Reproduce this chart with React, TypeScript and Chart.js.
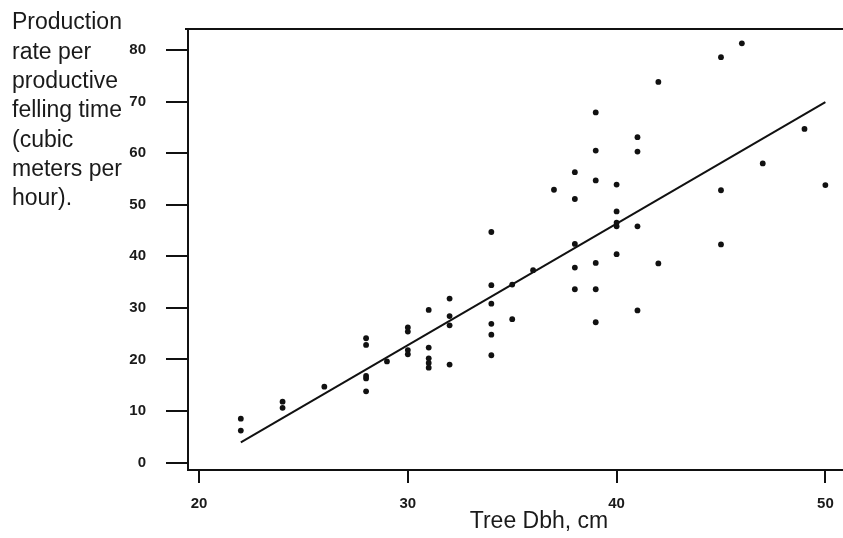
import React, { useEffect, useRef } from 'react';
import { Chart, registerables } from 'chart.js';

Chart.register(...registerables);

// Tree diameter at breast height (cm) for each observation
const dbh = [
  22, 22,
  24, 24,
  26,
  28, 28, 28, 28, 28,
  29,
  30, 30, 30, 30,
  31, 31, 31, 31, 31,
  32, 32, 32, 32,
  34, 34, 34, 34, 34, 34,
  35, 35,
  36,
  37,
  38, 38, 38, 38, 38,
  39, 39, 39, 39, 39, 39,
  40, 40, 40, 40, 40,
  41, 41, 41, 41,
  42, 42,
  45, 45, 45,
  46, 47, 49, 50,
];

// Production rate per productive felling time (m3/h) for each observation
const rate = [
  8.5, 6.2,
  11.8, 10.6,
  14.7,
  24.1, 22.8, 16.8, 16.3, 13.8,
  19.6,
  26.2, 25.4, 21.8, 21.0,
  29.6, 22.3, 20.2, 19.3, 18.4,
  31.8, 28.4, 26.6, 19.0,
  44.7, 34.4, 30.8, 26.9, 24.8, 20.8,
  34.5, 27.8,
  37.3,
  52.9,
  56.3, 51.1, 42.4, 37.8, 33.6,
  67.9, 60.5, 54.7, 38.7, 33.6, 27.2,
  53.9, 48.7, 46.5, 45.8, 40.4,
  63.1, 60.3, 45.8, 29.5,
  73.8, 38.6,
  78.6, 52.8, 42.3,
  81.3, 58.0, 64.7, 53.8,
];

// Fitted regression line end points
const fitX = [22, 50];
const fitY = [3.9, 69.9];

const xTicks = [20, 30, 40, 50];
const yTicks = [0, 10, 20, 30, 40, 50, 60, 70, 80];

const yTitleLines = [
  'Production',
  'rate per',
  'productive',
  'felling time',
  '(cubic',
  'meters per',
  'hour).',
];
const xTitle = 'Tree Dbh, cm';

const INK = '#111111';
const TEXT = '#1a1a1a';
const FONT = '"Liberation Sans", Arial, sans-serif';

const framePlugin = {
  id: 'frameAndTitles',
  afterDraw(chart: any) {
    const { ctx, chartArea } = chart;
    ctx.save();
    // top frame line
    ctx.strokeStyle = INK;
    ctx.lineWidth = 2;
    ctx.beginPath();
    ctx.moveTo(chartArea.left - 3, chartArea.top);
    ctx.lineTo(chartArea.right, chartArea.top);
    ctx.stroke();

    // horizontal, multi-line y-axis title at top-left
    ctx.fillStyle = TEXT;
    ctx.font = `23px ${FONT}`;
    ctx.textAlign = 'left';
    ctx.textBaseline = 'middle';
    yTitleLines.forEach((line, i) => {
      ctx.fillText(line, 12, 23 + i * 29.3);
    });

    // x-axis title
    ctx.textAlign = 'center';
    ctx.fillText(xTitle, 539, 522);
    ctx.restore();
  },
};

export default function App() {
  const canvasRef = useRef<HTMLCanvasElement | null>(null);

  useEffect(() => {
    const canvas = canvasRef.current;
    if (!canvas) return;

    const points = dbh.map((x, i) => ({ x, y: rate[i] }));
    const fit = fitX.map((x, i) => ({ x, y: fitY[i] }));

    const chart = new Chart(canvas, {
      type: 'scatter',
      data: {
        datasets: [
          {
            label: 'Observations',
            data: points,
            pointRadius: 2.9,
            pointBackgroundColor: INK,
            pointBorderColor: INK,
            pointBorderWidth: 0,
            showLine: false,
          },
          {
            label: 'Fitted line',
            data: fit,
            showLine: true,
            borderColor: INK,
            borderWidth: 2,
            pointRadius: 0,
            fill: false,
          },
        ],
      },
      options: {
        responsive: false,
        animation: false,
        events: [],
        layout: { padding: { top: 27, left: 0, right: 0, bottom: 0 } },
        plugins: {
          legend: { display: false },
          tooltip: { enabled: false },
          title: { display: false },
        },
        scales: {
          x: {
            type: 'linear',
            min: 19.47,
            max: 50.94,
            afterBuildTicks: (axis: any) => {
              axis.ticks = xTicks.map((v) => ({ value: v }));
            },
            afterFit: (axis: any) => {
              axis.height = 68;
            },
            grid: {
              drawOnChartArea: false,
              drawTicks: true,
              tickLength: 13,
              color: INK,
              lineWidth: 2,
            },
            border: { display: true, color: INK, width: 2 },
            ticks: {
              padding: 12,
              color: TEXT,
              font: { family: FONT, size: 15, weight: 'bold' },
              maxRotation: 0,
              callback: (v: any) => String(v),
            },
            title: { display: false },
          },
          y: {
            type: 'linear',
            min: -1.45,
            max: 84.07,
            afterBuildTicks: (axis: any) => {
              axis.ticks = yTicks.map((v) => ({ value: v }));
            },
            afterFit: (axis: any) => {
              axis.width = 188;
            },
            grid: {
              drawOnChartArea: false,
              drawTicks: true,
              tickLength: 22,
              color: INK,
              lineWidth: 2,
            },
            border: { display: true, color: INK, width: 2 },
            ticks: {
              padding: 20,
              color: TEXT,
              font: { family: FONT, size: 15, weight: 'bold' },
              callback: (v: any) => String(v),
            },
            title: { display: false },
          },
        },
      },
      plugins: [framePlugin],
    });

    return () => {
      chart.destroy();
    };
  }, []);

  return (
    <div
      style={{
        position: 'fixed',
        left: 0,
        top: 0,
        width: 843,
        height: 538,
        overflow: 'hidden',
        background: '#fff',
      }}
    >
      <canvas ref={canvasRef} width={849} height={538} style={{ display: 'block' }} />
    </div>
  );
}
